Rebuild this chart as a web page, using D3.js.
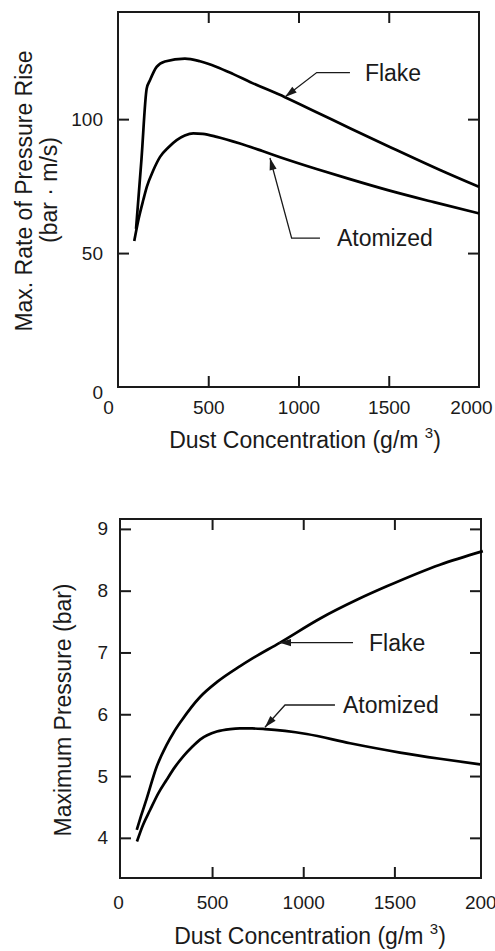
<!DOCTYPE html>
<html><head><meta charset="utf-8">
<script src="https://cdn.jsdelivr.net/npm/d3@7"></script>
<style>
body{margin:0;background:#fff}
svg{display:block}
text{font-family:"Liberation Sans",Arial,Helvetica,sans-serif;fill:#1a1a1a}
</style>
</head><body>
<svg id="c" width="495" height="951"></svg>
<script>
// ---------- data ----------
// Top panel: max. rate of pressure rise (bar·m/s) vs dust concentration (g/m3)
const concFlakeRate = [100,130,159,177,214,260,371,454,547,639,731,925,1100,1285,1500,1784,2000];
const rateFlake     = [59,85,111.4,114.5,119.5,121.5,122.6,121.6,119.5,116.8,113.9,108.2,102.6,96.6,89.8,81,74.7];
const concAtomRate  = [90,115,140,160,195,233,280,325,370,417,470,547,676,800,898,1100,1285,1500,1750,2000];
const rateAtom      = [54.5,63,69.8,74.8,80.8,85.9,89.5,92.2,93.9,94.7,94.5,93.4,90.9,88.1,85.8,81.4,77.6,73.4,69,64.8];

// Bottom panel: maximum pressure (bar) vs dust concentration (g/m3)
const concFlakeP = [87,110,141,196,250,290,333,434,526,654,708,873,1093,1300,1458,1750,1985];
const presFlake  = [4.13,4.35,4.63,5.15,5.5,5.71,5.9,6.28,6.52,6.78,6.88,7.16,7.55,7.86,8.07,8.42,8.64];
const concAtomP  = [88,120,160,205,251,295,342,390,434,526,600,653,720,790,900,1019,1257,1531,1750,1970];
const presAtom   = [3.94,4.2,4.45,4.72,4.94,5.14,5.32,5.47,5.59,5.72,5.76,5.77,5.77,5.76,5.73,5.68,5.53,5.38,5.28,5.19];

// tick labels
const xTickLabels    = [0,500,1000,1500,2000];
const rateTickLabels = [0,50,100];
const presTickLabels = [4,5,6,7,8,9];
const seriesNames    = ["Flake","Atomized"];

// ---------- drawing ----------
const svg = d3.select("#c");
const INK = "#1a1a1a";

function zip(xs, ys){ return xs.map((v,i)=>[v, ys[i]]); }

function arrowHead(g, tip, from){
  const dx = tip[0]-from[0], dy = tip[1]-from[1];
  const L = Math.hypot(dx,dy), ux = dx/L, uy = dy/L;
  const len = 12, hw = 3.6;
  const bx = tip[0]-ux*len, by = tip[1]-uy*len;
  g.append("path")
    .attr("d", `M${tip[0]},${tip[1]}L${bx-uy*hw},${by+ux*hw}L${bx+uy*hw},${by-ux*hw}Z`)
    .attr("fill", INK);
}

function panel(cfg){
  const x = d3.scaleLinear().domain(cfg.xDomain).range(cfg.xRange);
  const y = d3.scaleLinear().domain(cfg.yDomain).range(cfg.yRange);
  const g = svg.append("g");
  const [x0,x1] = cfg.xRange, [y0,y1] = cfg.yRange; // y0 bottom, y1 top
  const T = 11;

  const bx = g.append("g").attr("transform",`translate(0,${y0})`)
    .call(d3.axisBottom(x).tickValues(xTickLabels).tickSize(-T).tickPadding(cfg.xPad).tickFormat(d3.format("d")));
  const tx = g.append("g").attr("transform",`translate(0,${y1})`)
    .call(d3.axisTop(x).tickValues(xTickLabels).tickSize(-T).tickFormat(""));
  const ly = g.append("g").attr("transform",`translate(${x0},0)`)
    .call(d3.axisLeft(y).tickValues(cfg.yTicks).tickSize(-T).tickPadding(cfg.yPad).tickFormat(d3.format("d")));
  const ry = g.append("g").attr("transform",`translate(${x1},0)`)
    .call(d3.axisRight(y).tickValues(cfg.yTicks).tickSize(-T).tickFormat(""));

  [bx,tx,ly,ry].forEach(a=>{
    a.select(".domain").remove();
    a.selectAll(".tick line").attr("stroke",INK).attr("stroke-width",2);
    a.selectAll(".tick text").style("font-size","19px").attr("fill",INK)
      .style("font-family",'"Liberation Sans",Arial,sans-serif');
  });
  [bx,tx].forEach(a=>a.selectAll(".tick line").filter(d=>d===0||d===2000).remove());
  [ly,ry].forEach(a=>a.selectAll(".tick line").filter(d=>d===0).remove());
  bx.selectAll(".tick text").filter(d=>d===0).attr("dx",cfg.zeroXdx);
  bx.selectAll(".tick text").filter(d=>d===2000).attr("dx",cfg.endXdx);
  ly.selectAll(".tick text").filter(d=>d===0).attr("dy","0.62em");

  g.append("rect").attr("x",x0).attr("y",y1).attr("width",x1-x0).attr("height",y0-y1)
    .attr("fill","none").attr("stroke",INK).attr("stroke-width",2);

  const line = d3.line().x(d=>x(d[0])).y(d=>y(d[1])).curve(d3.curveMonotoneX);
  cfg.series.forEach(s=>{
    g.append("path").datum(s).attr("d",line)
      .attr("fill","none").attr("stroke","#000").attr("stroke-width",2.7)
      .attr("stroke-linejoin","round");
  });

  cfg.notes.forEach(n=>{
    const tip = [x(n.tip[0]), y(n.tip[1])];
    const elbow = [x(n.elbow[0]), y(n.elbow[1])];
    const end = [x(n.end), elbow[1]];
    g.append("path").attr("d",`M${end[0]},${end[1]}L${elbow[0]},${elbow[1]}L${tip[0]},${tip[1]}`)
      .attr("fill","none").attr("stroke",INK).attr("stroke-width",1.3);
    const same = Math.abs(elbow[0]-tip[0])<0.5 && Math.abs(elbow[1]-tip[1])<0.5;
    arrowHead(g, tip, same ? end : elbow);
    g.append("text").attr("x",x(n.text)).attr("y",elbow[1]).attr("dy","0.36em")
      .style("font-size","23px").text(n.label);
  });

  const xt = g.append("text").attr("x",cfg.xTitle[0]).attr("y",cfg.xTitle[1])
    .attr("text-anchor","middle").style("font-size","23px");
  xt.append("tspan").text("Dust Concentration (g/m ");
  xt.append("tspan").attr("dy",-10).style("font-size","15px").text("3");
  xt.append("tspan").attr("dy",10).text(")");

  cfg.yTitle.forEach(t=>{
    g.append("text").attr("transform",`translate(${t.x},${t.y}) rotate(-90)`)
      .attr("text-anchor","middle").style("font-size","23px").text(t.text);
  });
}

panel({
  xDomain:[0,2000], xRange:[118,479],
  yDomain:[0,140], yRange:[387,12],
  yTicks: rateTickLabels, xPad:14, yPad:15, zeroXdx:-10, endXdx:-8,
  series:[zip(concFlakeRate,rateFlake), zip(concAtomRate,rateAtom)],
  notes:[
    {label:seriesNames[0], tip:[925,108.3], elbow:[1101,117.4], end:1285, text:1368},
    {label:seriesNames[1], tip:[842,85.5], elbow:[962,55.6], end:1119, text:1213}
  ],
  xTitle:[305,448],
  yTitle:[{text:"Max. Rate of Pressure Rise", x:32, y:191},{text:"(bar · m/s)", x:57, y:190}]
});

panel({
  xDomain:[-5,1975], xRange:[120,481],
  yDomain:[3.35,9.16], yRange:[878,519],
  yTicks: presTickLabels, xPad:18, yPad:12, zeroXdx:-3, endXdx:0,
  series:[zip(concFlakeP,presFlake), zip(concAtomP,presAtom)],
  notes:[
    {label:seriesNames[0], tip:[867,7.16], elbow:[867,7.16], end:1273, text:1361},
    {label:seriesNames[1], tip:[790,5.79], elbow:[900,6.15], end:1174, text:1218}
  ],
  xTitle:[310,944],
  yTitle:[{text:"Maximum Pressure (bar)", x:71, y:710}]
});
</script>
</body></html>
